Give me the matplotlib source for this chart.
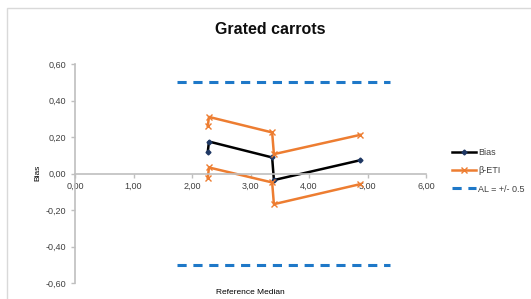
import matplotlib
matplotlib.use('Agg')
from matplotlib import pyplot as plt
from matplotlib.patches import Rectangle

# values
ref_median = [2.27, 2.29, 3.37, 3.40, 4.88]
bias = [0.12, 0.175, 0.088, -0.036, 0.073]
eti_upper = [0.26, 0.31, 0.225, 0.106, 0.212]
eti_lower = [-0.025, 0.033, -0.049, -0.168, -0.058]
al_x = [1.75, 5.38]
al_level = 0.5
x_ticks = [0, 1, 2, 3, 4, 5, 6]
y_ticks = [-0.6, -0.4, -0.2, 0.0, 0.2, 0.4, 0.6]

W, H = 531, 299
fig = plt.figure(figsize=(W / 100, H / 100), dpi=100)
plt.rcParams['font.family'] = ['Liberation Sans', 'DejaVu Sans']

# chart frame
fig.patches.append(Rectangle((7 / W, -0.1), 1.2, 1 - 8 / H + 0.1, transform=fig.transFigure,
                             fill=False, edgecolor='#D9D9D9', lw=1))

ax = fig.add_axes([75 / W, 1 - 283 / H, (426 - 75) / W, (283 - 64) / H])
grey = '#BFBFBF'

ax.plot(ref_median, bias, color='black', lw=1.8, marker='D', ms=2.5,
        mfc='#1F3864', mec='#1F3864', label='Bias')
ax.plot(ref_median, eti_upper, color='#ED7D31', lw=1.8, marker='x', ms=5, label='β-ETI')
ax.plot(ref_median, eti_lower, color='#ED7D31', lw=1.8, marker='x', ms=5)
ax.plot(al_x, [al_level, al_level], color='#1E78C8', lw=2.2, ls=(0, (3, 2.2)),
        label='AL = +/- 0.5')
ax.plot(al_x, [-al_level, -al_level], color='#1E78C8', lw=2.2, ls=(0, (3, 2.2)))

ax.set_xlim(0, 6)
ax.set_ylim(-0.6, 0.6)
ax.set_xticks(x_ticks)
ax.set_yticks(y_ticks)
ax.set_xticklabels([('%.2f' % v).replace('.', ',') for v in x_ticks])
ax.set_yticklabels([('%.2f' % v).replace('.', ',') for v in y_ticks])

for s in ['top', 'right']:
    ax.spines[s].set_visible(False)
ax.spines['bottom'].set_position(('data', 0))
ax.spines['bottom'].set_color(grey)
ax.spines['left'].set_color(grey)
ax.spines['bottom'].set_linewidth(1.2)
ax.spines['left'].set_linewidth(1.2)
ax.tick_params(axis='both', colors=grey, labelcolor='#404040', labelsize=6.5, length=3, width=1)
ax.tick_params(axis='x', pad=3)
ax.patch.set_alpha(0)

fig.text(270 / W, 1 - 29 / H, 'Grated carrots', ha='center', va='center',
         fontsize=11.5, fontweight='bold', color='#0D0D0D')
fig.text(38 / W, 1 - 173 / H, 'Bias', ha='center', va='center', rotation=90, fontsize=6)
fig.text(250 / W, 1 - 292 / H, 'Reference Median', ha='center', va='center', fontsize=6)

leg = ax.legend(loc='center left', bbox_to_anchor=(444 / W, 1 - 171 / H), bbox_transform=fig.transFigure,
                frameon=False, fontsize=6.5, handlelength=2.6, handletextpad=0.3, labelspacing=1.0)
for t in leg.get_texts():
    t.set_color('#404040')

fig.savefig('out.png', dpi=100)
